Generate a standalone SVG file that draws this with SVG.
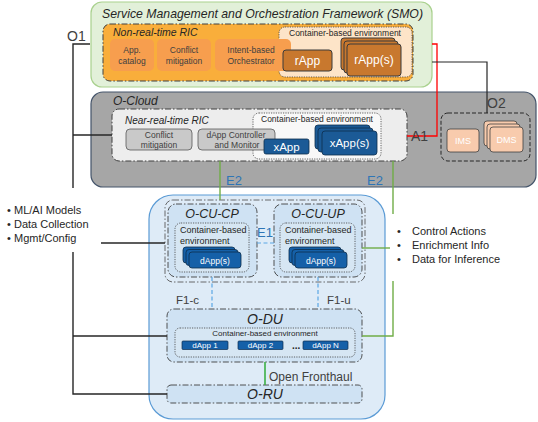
<svg xmlns="http://www.w3.org/2000/svg" width="538" height="422" viewBox="0 0 538 422">
<defs>
<style>
text{font-family:"Liberation Sans",Arial,sans-serif;}
.it{font-style:italic;}
.dd{stroke-dasharray:6,2,1.5,2;}
.dot{stroke-dasharray:1.2,1.2;}
.lbl{fill:#404040;}
.blue{fill:#2e75b6;}
.w{fill:#ffffff;}
</style>
</defs>
<rect width="538" height="422" fill="#ffffff"/>

<!-- SMO -->
<g id="smo">
<rect x="91" y="2" width="341" height="85" rx="11" fill="#e2f0d9" stroke="#a9d18e" stroke-width="1.2"/>
<text x="102" y="18" class="it" font-size="13" fill="#262626" textLength="321" lengthAdjust="spacingAndGlyphs">Service Management and Orchestration Framework (SMO)</text>
</g>
<g id="nonrt-ric">
<rect x="103" y="24" width="310" height="57" rx="7" fill="#f9ae3b" stroke="#404040" stroke-width="1" class="dd"/>
<text x="113" y="36" class="it" font-size="10.5" fill="#262626">Non-real-time RIC</text>
</g>
<g id="smo-container">
<rect x="279" y="27" width="133" height="50" rx="6" fill="#fde4c8" stroke="#404040" stroke-width="0.8" class="dot"/>
<text x="345" y="36" font-size="8.5" text-anchor="middle" fill="#262626">Container-based environment</text>
</g>
<g id="app-catalog">
<rect x="110" y="39" width="44" height="32" rx="5" fill="#f79e4e"/>
<text x="132" y="53" font-size="8.5" text-anchor="middle" fill="#404040">App.</text>
<text x="132" y="64" font-size="8.5" text-anchor="middle" fill="#404040">catalog</text>
</g>
<g id="smo-conflict">
<rect x="157" y="39" width="54" height="32" rx="5" fill="#f79e4e"/>
<text x="184" y="53" font-size="8.5" text-anchor="middle" fill="#404040">Conflict</text>
<text x="184" y="64" font-size="8.5" text-anchor="middle" fill="#404040">mitigation</text>
</g>
<g id="intent-orch">
<rect x="215" y="39" width="76" height="32" rx="5" fill="#f79e4e"/>
<text x="251" y="53" font-size="8.5" text-anchor="middle" fill="#404040">Intent-based</text>
<text x="251" y="64" font-size="8.5" text-anchor="middle" fill="#404040">Orchestrator</text>
</g>
<g id="rapp">
<rect x="283" y="50" width="49" height="21" rx="3" fill="#c8782e" stroke="#3a3a3a" stroke-width="1"/>
<text x="307.5" y="65" font-size="12" text-anchor="middle" class="w">rApp</text>
</g>
<g id="rapps">
<rect x="341" y="38" width="54" height="32" rx="3" fill="#c8782e" stroke="#3a3a3a" stroke-width="1"/>
<rect x="344" y="41" width="54" height="32" rx="3" fill="#c8782e" stroke="#3a3a3a" stroke-width="1"/>
<rect x="347" y="44" width="54" height="32" rx="3" fill="#c8782e" stroke="#3a3a3a" stroke-width="1"/>
<text x="374" y="64" font-size="12" text-anchor="middle" class="w">rApp(s)</text>
</g>

<!-- O-Cloud -->
<g id="ocloud">
<rect x="91" y="92" width="445" height="95" rx="12" fill="#a6a6a6" stroke="#44546a" stroke-width="1.2"/>
<text x="113" y="105" class="it" font-size="12" fill="#262626">O-Cloud</text>
</g>
<g id="nearrt-ric">
<rect x="112" y="109" width="295" height="52" rx="7" fill="#ededed" stroke="#404040" stroke-width="1" class="dd"/>
<text x="125" y="124" class="it" font-size="10" fill="#262626">Near-real-time RIC</text>
</g>
<g id="near-container">
<rect x="253" y="113" width="128" height="46" rx="6" fill="#f8f8f8" stroke="#404040" stroke-width="0.8" class="dot"/>
<text x="317" y="122" font-size="8.5" text-anchor="middle" fill="#262626">Container-based environment</text>
</g>
<g id="near-conflict">
<rect x="126" y="129" width="66" height="21" rx="4" fill="#c9c9c9" stroke="#595959" stroke-width="0.8"/>
<text x="159" y="138" font-size="8.5" text-anchor="middle" fill="#404040">Conflict</text>
<text x="159" y="148" font-size="8.5" text-anchor="middle" fill="#404040">mitigation</text>
</g>
<g id="dapp-ctrl">
<rect x="198" y="129" width="77" height="21" rx="4" fill="#c9c9c9" stroke="#595959" stroke-width="0.8"/>
<text x="236" y="138" font-size="8.5" text-anchor="middle" fill="#404040">dApp Controller</text>
<text x="237" y="148" font-size="8.5" text-anchor="middle" fill="#404040">and Monitor</text>
</g>
<g id="xapp">
<rect x="264" y="139" width="45" height="15" rx="2" fill="#1b5a96" stroke="#0d2d4d" stroke-width="0.8"/>
<text x="286.5" y="151" font-size="11.5" text-anchor="middle" class="w">xApp</text>
</g>
<g id="xapps">
<rect x="315" y="125" width="55" height="24" rx="3" fill="#1b5a96" stroke="#0d2d4d" stroke-width="0.8"/>
<rect x="318" y="128" width="55" height="24" rx="3" fill="#1b5a96" stroke="#0d2d4d" stroke-width="0.8"/>
<rect x="322" y="131" width="55" height="24" rx="3" fill="#1b5a96" stroke="#0d2d4d" stroke-width="0.8"/>
<text x="349.5" y="147" font-size="11.5" text-anchor="middle" class="w">xApp(s)</text>
</g>
<g id="o2-box">
<rect x="441" y="113" width="89" height="48" rx="7" fill="none" stroke="#262626" stroke-width="1" stroke-dasharray="4,2"/>
</g>
<g id="ims">
<rect x="447" y="129" width="32" height="23" rx="3" fill="#f8cbad" stroke="#404040" stroke-width="0.8"/>
<text x="463" y="144" font-size="9" text-anchor="middle" class="w">IMS</text>
</g>
<g id="dms">
<rect x="484" y="121" width="33" height="25" rx="3" fill="#f8cbad" stroke="#404040" stroke-width="0.8"/>
<rect x="487" y="124" width="33" height="25" rx="3" fill="#f8cbad" stroke="#404040" stroke-width="0.8"/>
<rect x="490" y="127" width="33" height="25" rx="3" fill="#f8cbad" stroke="#404040" stroke-width="0.8"/>
<text x="506.5" y="143" font-size="9" text-anchor="middle" class="w">DMS</text>
</g>

<!-- RAN -->
<g id="ran">
<rect x="149" y="195" width="236" height="224" rx="24" fill="#deebf7" stroke="#5b9bd5" stroke-width="1.2"/>
</g>
<g id="ocu">
<rect x="165" y="200" width="200" height="82" rx="8" fill="none" stroke="#595959" stroke-width="0.9" class="dd"/>
</g>
<g id="ocu-cp">
<rect x="168" y="204" width="89" height="73" rx="8" fill="#cfe2f3" stroke="#404040" stroke-width="0.9" class="dd"/>
<text x="212" y="218" class="it" font-size="12.5" text-anchor="middle" fill="#262626">O-CU-CP</text>
<rect x="175" y="223" width="74" height="49" rx="6" fill="#d6e6f3" stroke="#404040" stroke-width="0.8" class="dot"/>
<text x="180" y="233" font-size="9" fill="#262626">Container-based</text>
<text x="180" y="244" font-size="9" fill="#262626">environment</text>
<rect x="183" y="247" width="52" height="16" rx="3" fill="#1560a8" stroke="#0d2d4d" stroke-width="0.8"/>
<rect x="186" y="249.5" width="52" height="16" rx="3" fill="#1560a8" stroke="#0d2d4d" stroke-width="0.8"/>
<rect x="189" y="252" width="52" height="16" rx="3" fill="#1560a8" stroke="#0d2d4d" stroke-width="0.8"/>
<text x="215" y="263.5" font-size="8.5" text-anchor="middle" class="w">dApp(s)</text>
</g>
<g id="ocu-up">
<rect x="274" y="204" width="88" height="73" rx="8" fill="#cfe2f3" stroke="#404040" stroke-width="0.9" class="dd"/>
<text x="318" y="218" class="it" font-size="12.5" text-anchor="middle" fill="#262626">O-CU-UP</text>
<rect x="280" y="223" width="75" height="49" rx="6" fill="#d6e6f3" stroke="#404040" stroke-width="0.8" class="dot"/>
<text x="285" y="233" font-size="9" fill="#262626">Container-based</text>
<text x="285" y="244" font-size="9" fill="#262626">environment</text>
<rect x="289" y="247" width="52" height="16" rx="3" fill="#1560a8" stroke="#0d2d4d" stroke-width="0.8"/>
<rect x="292" y="249.5" width="52" height="16" rx="3" fill="#1560a8" stroke="#0d2d4d" stroke-width="0.8"/>
<rect x="295" y="252" width="52" height="16" rx="3" fill="#1560a8" stroke="#0d2d4d" stroke-width="0.8"/>
<text x="321" y="263.5" font-size="8.5" text-anchor="middle" class="w">dApp(s)</text>
</g>
<g id="odu">
<rect x="167" y="309" width="195" height="53" rx="7" fill="#cfe2f3" stroke="#404040" stroke-width="0.9" class="dd"/>
<text x="265" y="324" class="it" font-size="14" text-anchor="middle" fill="#262626">O-DU</text>
<rect x="175" y="328" width="180" height="29" rx="5" fill="#d6e6f3" stroke="#404040" stroke-width="0.8" class="dot"/>
<text x="265" y="336" font-size="8" text-anchor="middle" fill="#262626">Container-based environment</text>
<rect x="182" y="341" width="46" height="8.5" rx="1" fill="#1560a8" stroke="#0d2d4d" stroke-width="0.7"/>
<text x="205" y="348.3" font-size="8" text-anchor="middle" class="w">dApp 1</text>
<rect x="238" y="341" width="45" height="8.5" rx="1" fill="#1560a8" stroke="#0d2d4d" stroke-width="0.7"/>
<text x="260.5" y="348.3" font-size="8" text-anchor="middle" class="w">dApp 2</text>
<text x="292" y="348.5" font-size="10" font-weight="bold" fill="#262626">...</text>
<rect x="303" y="341" width="45" height="8.5" rx="1" fill="#1560a8" stroke="#0d2d4d" stroke-width="0.7"/>
<text x="325.5" y="348.3" font-size="8" text-anchor="middle" class="w">dApp N</text>
</g>
<g id="oru">
<rect x="167" y="385" width="195" height="18" rx="4" fill="#cfe2f3" stroke="#404040" stroke-width="0.9" class="dd"/>
<text x="265" y="399" class="it" font-size="14" text-anchor="middle" fill="#262626">O-RU</text>
</g>

<!-- Connectors -->
<g id="connectors" fill="none">
<polyline points="90,44 73,44 73,188" stroke="#262626" stroke-width="1.4"/>
<polyline points="73,252 73,394 167,394" stroke="#262626" stroke-width="1.4"/>
<line x1="73" y1="135" x2="112" y2="135" stroke="#262626" stroke-width="1.4"/>
<line x1="73" y1="336" x2="167" y2="336" stroke="#262626" stroke-width="1.4"/>
<line x1="101" y1="243" x2="165" y2="243" stroke="#262626" stroke-width="1.4"/>
<polyline points="432,44 437,44 437,136 407,136" stroke="#ff0000" stroke-width="1.3"/>
<polyline points="432,62 487,62 487,113" stroke="#262626" stroke-width="1.2"/>
<line x1="220" y1="161" x2="220" y2="200" stroke="#70ad47" stroke-width="1.4"/>
<line x1="393" y1="161" x2="393" y2="214" stroke="#70ad47" stroke-width="1.4"/>
<line x1="362" y1="248" x2="390" y2="248" stroke="#70ad47" stroke-width="1.4"/>
<polyline points="393,281 393,336 362,336" stroke="#70ad47" stroke-width="1.4"/>
<line x1="265" y1="362" x2="265" y2="385" stroke="#3cb044" stroke-width="1.6"/>
<line x1="257" y1="243" x2="274" y2="243" stroke="#5ba7e5" stroke-width="1.2" stroke-dasharray="4,2.5"/>
<line x1="212" y1="277" x2="212" y2="309" stroke="#5ba7e5" stroke-width="1.2" stroke-dasharray="4,2.5"/>
<line x1="318" y1="277" x2="318" y2="309" stroke="#5ba7e5" stroke-width="1.2" stroke-dasharray="4,2.5"/>
</g>

<!-- Labels -->
<g id="labels">
<text x="67" y="41" font-size="14" class="lbl">O1</text>
<text x="487" y="108" font-size="14" class="lbl">O2</text>
<text x="411" y="141" font-size="14" class="lbl">A1</text>
<text x="226" y="185" font-size="13" class="blue">E2</text>
<text x="367" y="185" font-size="13" class="blue">E2</text>
<text x="257" y="237" font-size="13" class="blue">E1</text>
<text x="176" y="304" font-size="11.5" class="lbl">F1-c</text>
<text x="327" y="304" font-size="11.5" class="lbl">F1-u</text>
<text x="269" y="381" font-size="12" class="lbl">Open Fronthaul</text>
<g font-size="11" fill="#262626">
<text x="7" y="214">•</text><text x="14" y="214">ML/AI Models</text>
<text x="7" y="228">•</text><text x="14" y="228">Data Collection</text>
<text x="7" y="242">•</text><text x="14" y="242">Mgmt/Config</text>
<text x="397" y="235">•</text><text x="412" y="235">Control Actions</text>
<text x="397" y="249">•</text><text x="412" y="249">Enrichment Info</text>
<text x="397" y="263">•</text><text x="412" y="263">Data for Inference</text>
</g>
</g>
</svg>
